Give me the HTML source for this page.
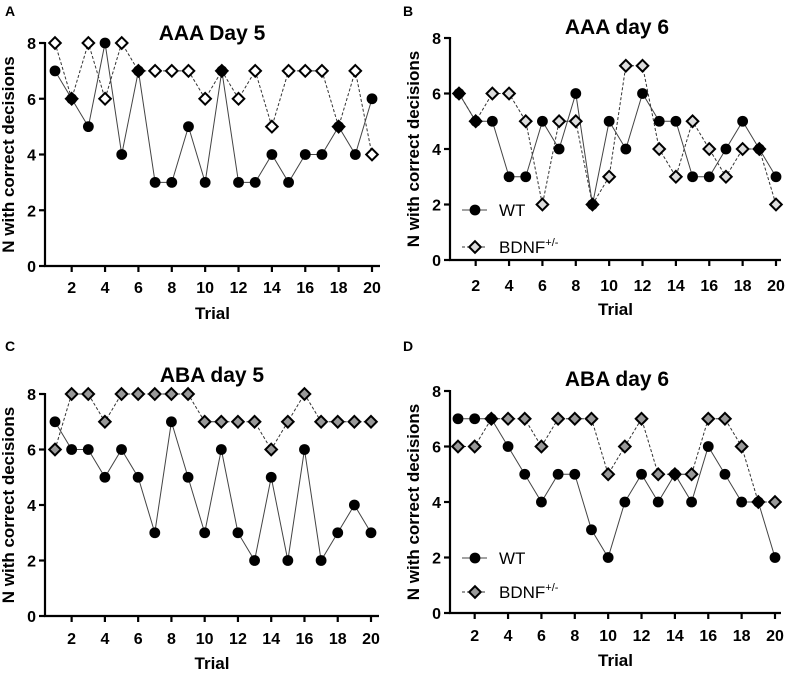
<!DOCTYPE html>
<html><head><meta charset="utf-8"><style>
html,body{margin:0;padding:0;background:#fff;}
svg{display:block;font-family:"Liberation Sans",Arial,sans-serif;}
</style></head><body>
<svg id="fig" width="793" height="674" viewBox="0 0 793 674" xmlns="http://www.w3.org/2000/svg"></svg>
<script>
const trials = [1,2,3,4,5,6,7,8,9,10,11,12,13,14,15,16,17,18,19,20];
const xTickLabels = [2,4,6,8,10,12,14,16,18,20];
const yTickLabels = [0,2,4,6,8];
const aWT = [7,6,5,8,4,7,3,3,5,3,7,3,3,4,3,4,4,5,4,6];
const aBDNF = [8,6,8,6,8,7,7,7,7,6,7,6,7,5,7,7,7,5,7,4];
const bWT = [6,5,5,3,3,5,4,6,2,5,4,6,5,5,3,3,4,5,4,3];
const bBDNF = [6,5,6,6,5,2,5,5,2,3,7,7,4,3,5,4,3,4,4,2];
const cWT = [7,6,6,5,6,5,3,7,5,3,6,3,2,5,2,6,2,3,4,3];
const cBDNF = [6,8,8,7,8,8,8,8,8,7,7,7,7,6,7,8,7,7,7,7];
const dWT = [7,7,7,6,5,4,5,5,3,2,4,5,4,5,4,6,5,4,4,2];
const dBDNF = [6,6,7,7,7,6,7,7,7,5,6,7,5,5,5,7,7,6,4,4];

const NS='http://www.w3.org/2000/svg';
const svg=document.getElementById('fig');
function mk(tag,attrs,parent){const e=document.createElementNS(NS,tag);for(const k in attrs)e.setAttribute(k,attrs[k]);(parent||svg).appendChild(e);return e;}

const panels=[
 {id:'a',letter:'A',title:'AAA Day 5',wt:aWT,bd:aBDNF,ax:45,x1:55,x20:372,xEnd:380,y8:43,y0:266,tickY:293,trialY:319,titleY:40,titleX:212,letY:16,fill:'#fff',legend:null},
 {id:'b',letter:'B',title:'AAA day 6',wt:bWT,bd:bBDNF,ax:450,x1:459,x20:776,xEnd:781,y8:38,y0:260,tickY:291,trialY:315,titleY:34,titleX:617,letY:16,fill:'#ddd',legend:{x:462,wy:210,by:247}},
 {id:'c',letter:'C',title:'ABA day 5',wt:cWT,bd:cBDNF,ax:45,x1:55,x20:371,xEnd:379,y8:394,y0:616,tickY:644,trialY:669,titleY:382,titleX:212,letY:351,fill:'#999',legend:null},
 {id:'d',letter:'D',title:'ABA day 6',wt:dWT,bd:dBDNF,ax:450,x1:458,x20:775,xEnd:781,y8:391,y0:613,tickY:641,trialY:666,titleY:386,titleX:617,letY:351,fill:'#999',legend:{x:462,wy:558,by:592}}
];

function diamond(g,cx,cy,fill,name){
  const r=5.8;
  const p=mk('polygon',{points:`${cx},${cy-r} ${cx+r},${cy} ${cx},${cy+r} ${cx-r},${cy}`,fill:fill,stroke:'#000','stroke-width':2},g);
  
  
}
function circle(g,cx,cy,name){
  const c=mk('circle',{cx:cx,cy:cy,r:5.4,fill:'#000'},g);
  
  
}

panels.forEach(P=>{
  const g=mk('g',{});
  
  
  const xs=t=>P.x1+(t-1)*(P.x20-P.x1)/19;
  const ys=v=>P.y0-(v/8)*(P.y0-P.y8);
  const lt=mk('text',{x:P.letter==='A'||P.letter==='C'?5:403,y:P.letY,'font-size':14,'font-weight':'bold'},g);lt.textContent=P.letter;
  
  const tt=mk('text',{x:P.titleX,y:P.titleY,'font-size':21,'font-weight':'bold','text-anchor':'middle'},g);tt.textContent=P.title;
  
  const ya=mk('line',{x1:P.ax,y1:P.y8-1,x2:P.ax,y2:P.y0,stroke:'#000','stroke-width':2.2},g);
  
  const xa=mk('line',{x1:P.ax-1,y1:P.y0,x2:P.xEnd,y2:P.y0,stroke:'#000','stroke-width':2.2},g);
  
  yTickLabels.forEach(v=>{
    mk('line',{x1:P.ax-6,y1:ys(v),x2:P.ax,y2:ys(v),stroke:'#000','stroke-width':2.2},g);
    const t=mk('text',{x:P.ax-9,y:ys(v)+6,'font-size':16,'font-weight':'bold','text-anchor':'end'},g);t.textContent=v;
    
  });
  xTickLabels.forEach(v=>{
    mk('line',{x1:xs(v),y1:P.y0,x2:xs(v),y2:P.y0+6,stroke:'#000','stroke-width':2.2},g);
    const t=mk('text',{x:xs(v),y:P.tickY,'font-size':16,'font-weight':'bold','text-anchor':'middle'},g);t.textContent=v;
    
  });
  const xt=mk('text',{x:(P.ax+P.xEnd)/2,y:P.trialY,'font-size':17,'font-weight':'bold','text-anchor':'middle'},g);xt.textContent='Trial';
  
  const ymid=(P.y0+P.y8)/2,ylx=P.ax-31;
  const yt=mk('text',{x:ylx,y:ymid,'font-size':17,'font-weight':'bold','text-anchor':'middle',transform:`rotate(-90 ${ylx} ${ymid})`},g);yt.textContent='N with correct decisions';
  
  const wtPts=trials.map((t,i)=>xs(t)+','+ys(P.wt[i])).join(' ');
  const bdPts=trials.map((t,i)=>xs(t)+','+ys(P.bd[i])).join(' ');
  const bl=mk('polyline',{points:bdPts,fill:'none',stroke:'#333','stroke-width':1,'stroke-dasharray':'3,2'},g);
  
  const wl=mk('polyline',{points:wtPts,fill:'none',stroke:'#444','stroke-width':1},g);
  
  trials.forEach((t,i)=>diamond(g,xs(t),ys(P.bd[i]),P.fill,'bdnf-point'));
  trials.forEach((t,i)=>circle(g,xs(t),ys(P.wt[i]),'wt-point'));
  if(P.legend){
    const L=P.legend;
    const lg=mk('g',{},g);
    
    mk('line',{x1:L.x,y1:L.wy,x2:L.x+25,y2:L.wy,stroke:'#444','stroke-width':1},lg);
    circle(lg,L.x+13,L.wy,'legend-wt-marker');
    const t1=mk('text',{x:L.x+37,y:L.wy+6,'font-size':17},lg);t1.textContent='WT';
    
    mk('line',{x1:L.x,y1:L.by,x2:L.x+25,y2:L.by,stroke:'#333','stroke-width':1,'stroke-dasharray':'3,2'},lg);
    diamond(lg,L.x+13,L.by,P.fill,'legend-bdnf-marker');
    const t2=mk('text',{x:L.x+37,y:L.by+6,'font-size':17},lg);
    
    t2.appendChild(document.createTextNode('BDNF'));
    const sp=mk('tspan',{dy:-7,'font-size':11},t2);sp.textContent='+/-';
  }
});
</script>
</body></html>
